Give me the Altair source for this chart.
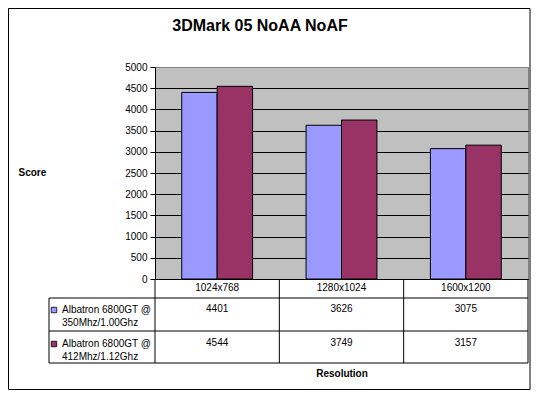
import altair as alt
import pandas as pd

chart_title = "3DMark 05 NoAA NoAF"
resolutions = ["1024x768", "1280x1024", "1600x1200"]
series = ["Albatron 6800GT @ 350Mhz/1.00Ghz", "Albatron 6800GT @ 412Mhz/1.12Ghz"]
scores_350 = [4401, 3626, 3075]
scores_412 = [4544, 3749, 3157]
series_colors = ["#9999FF", "#993366"]
y_ticks = [0, 500, 1000, 1500, 2000, 2500, 3000, 3500, 4000, 4500, 5000]

rows = []
for i, r in enumerate(resolutions):
    rows.append({"res": r, "series": series[0], "score": scores_350[i]})
    rows.append({"res": r, "series": series[1], "score": scores_412[i]})
df = pd.DataFrame(rows)

W, H = 373, 212
FONT = "Liberation Sans"
one = alt.Data(values=[{}])

x_scale = alt.Scale(domain=resolutions, paddingInner=0.43, paddingOuter=0.215)
color_scale = alt.Scale(domain=series, range=series_colors)

x_axis = alt.Axis(labels=False, ticks=False, domain=True, domainColor="black",
                  grid=False, title="Resolution", titleFont=FONT, titleFontSize=10,
                  titleFontWeight="bold", titleColor="black", titleY=94,
                  titleBaseline="middle")
x_enc = alt.X("res:N", scale=x_scale, sort=resolutions, axis=x_axis)

y_axis = alt.Axis(values=y_ticks, format="d", grid=True,
                  gridColor={"condition": {"test": "datum.value === 5000", "value": "#808080"}, "value": "black"},
                  gridWidth=1, gridOpacity=1,
                  domainColor="black", tickColor="black", tickSize=5, labelPadding=3,
                  labelFont=FONT, labelFontSize=10, labelColor="black",
                  title="Score", titleAngle=0, titleAlign="left", titleX=-137, titleY=105,
                  titleBaseline="middle", titleFont=FONT, titleFontSize=10,
                  titleFontWeight="bold", titleColor="black")

base = alt.Chart(df)

border = alt.Chart(one).mark_rect(fillOpacity=0, stroke="black", strokeWidth=1).encode(
    x=alt.value(-146.5), x2=alt.value(375), y=alt.value(-58.5), y2=alt.value(322.5))

title = alt.Chart(one).mark_text(font=FONT, fontSize=16, fontWeight="bold", color="black",
                                 align="center", baseline="middle").encode(
    x=alt.value(105), y=alt.value(-41), text=alt.value(chart_title))

bars = base.mark_bar(stroke="black", strokeWidth=1).encode(
    x=x_enc,
    xOffset=alt.XOffset("series:N", sort=series),
    y=alt.Y("score:Q", scale=alt.Scale(domain=[0, 5000], nice=False), axis=y_axis),
    color=alt.Color("series:N", scale=color_scale, legend=None),
)

header = base.transform_filter(alt.datum.series == series[0]).mark_text(
    font=FONT, fontSize=10, color="black", baseline="top").encode(
    x=x_enc, y=alt.value(216), text="res:N")

layers = [border, title, bars, header]

row_y = [237, 271]
for i, s in enumerate(series):
    vals = base.transform_filter(alt.datum.series == s).mark_text(
        font=FONT, fontSize=10, color="black", baseline="top").encode(
        x=x_enc, y=alt.value(row_y[i]), text=alt.Text("score:Q", format="d"))
    sq = base.transform_filter((alt.datum.series == s) & (alt.datum.res == resolutions[0])).mark_square(
        size=30, stroke="black", strokeWidth=0.8, opacity=1, filled=True).encode(
        x=alt.value(-101), y=alt.value(row_y[i] + 6),
        color=alt.Color("series:N", scale=color_scale, legend=None))
    lab = base.transform_filter((alt.datum.series == s) & (alt.datum.res == resolutions[0])).transform_calculate(
        label="replace(datum.series, '@ ', '@\\n')").mark_text(
        font=FONT, fontSize=10, color="black", align="left", baseline="top",
        lineBreak="\n", lineHeight=13).encode(
        x=alt.value(-93), y=alt.value(row_y[i] + 1), text="label:N")
    layers += [vals, sq, lab]


def hrule(y, x1, x2):
    return alt.Chart(one).mark_rule(color="black", strokeWidth=1).encode(
        x=alt.value(x1), x2=alt.value(x2), y=alt.value(y))


def vrule(x, y1, y2):
    return alt.Chart(one).mark_rule(color="black", strokeWidth=1).encode(
        x=alt.value(x), y=alt.value(y1), y2=alt.value(y2))


step = W / len(resolutions)
layers += [
    hrule(231, -106, W), hrule(264, -106, W), hrule(296, -106, W),
    vrule(-106, 231, 296), vrule(0, H, 296), vrule(step, H, 296),
    vrule(2 * step, H, 296), vrule(W, H, 296),
]

chart = alt.layer(*layers).properties(
    width=W, height=H, background="white",
    autosize=alt.AutoSizeParams(type="none"),
    padding={"left": 147, "top": 59, "right": 5, "bottom": 111},
).configure_view(fill="#C0C0C0", stroke="#808080", strokeWidth=1)

chart.save("out.html", embed_options={"renderer": "svg", "actions": False})
